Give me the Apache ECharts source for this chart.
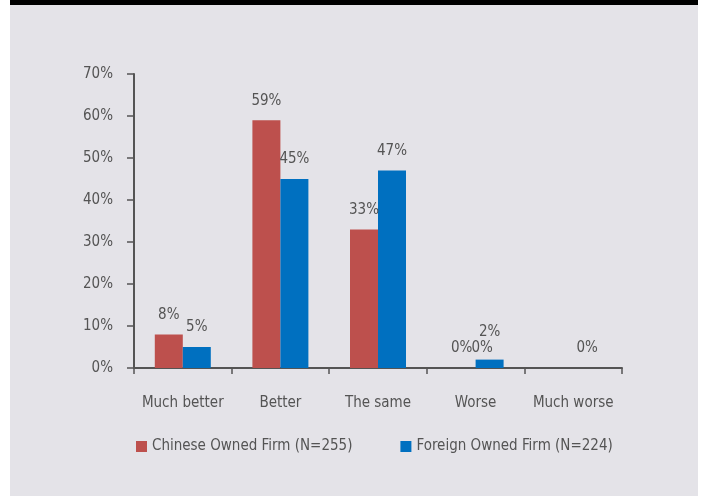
<!DOCTYPE html>
<html>
<head>
<meta charset="utf-8">
<script src="https://cdn.jsdelivr.net/npm/echarts@6/dist/echarts.min.js"></script>
<style>
html,body{margin:0;padding:0;background:#ffffff;width:705px;height:496px;overflow:hidden;}
#bg{position:absolute;left:10px;top:0;width:688px;height:491px;background:#e4e3e8;border-top:5px solid #000;}
#chart{position:absolute;left:0;top:0;width:705px;height:496px;}
</style>
</head>
<body>
<div id="bg"></div>
<div id="chart"></div>
<script>
var categories = ['Much better', 'Better', 'The same', 'Worse', 'Much worse'];
var chineseValues = [8, 59, 33, 0, 0];
var foreignValues = [5, 45, 47, 2, 0];
var seriesNames = ['Chinese Owned Firm (N=255)', 'Foreign Owned Firm (N=224)'];
var yTicks = [0, 10, 20, 30, 40, 50, 60, 70];

var FONT = '"Liberation Sans Narrow", "DejaVu Sans Condensed", "Arial Narrow", sans-serif';
var TXT = '#545454';

function labelled(values, specials) {
  return values.map(function (v, i) {
    var item = { value: v };
    if (specials[i]) item.label = specials[i];
    return item;
  });
}

var chart = echarts.init(document.getElementById('chart'), null, { renderer: 'canvas' });
var baseLabel = {
  show: true, position: 'top', distance: 12,
  color: TXT, fontFamily: FONT, fontSize: 15,
  formatter: function (p) { return p.value + '%'; }
};
chart.setOption({
  backgroundColor: 'transparent',
  animation: false,
  textStyle: { fontFamily: FONT, color: TXT },
  grid: { left: 134, right: 83, top: 74, bottom: 128, containLabel: false },
  legend: {
    data: seriesNames,
    left: 131, top: 434,
    itemWidth: 11, itemHeight: 11, itemGap: 48,
    icon: 'rect',
    textStyle: { color: TXT, fontFamily: FONT, fontSize: 15, padding: [0, 0, 0, 0] }
  },
  xAxis: {
    type: 'category',
    data: categories,
    boundaryGap: true,
    axisLine: { lineStyle: { color: TXT, width: 2 } },
    axisTick: { show: true, length: 6, lineStyle: { color: TXT, width: 1.5 } },
    axisLabel: { color: TXT, fontFamily: FONT, fontSize: 15, margin: 28, interval: 0 }
  },
  yAxis: {
    type: 'value',
    min: yTicks[0], max: yTicks[yTicks.length - 1], interval: 10,
    axisLine: { show: true, lineStyle: { color: TXT, width: 2 } },
    axisTick: { show: true, length: 7, lineStyle: { color: TXT, width: 1.5 } },
    splitLine: { show: false },
    axisLabel: { color: TXT, fontFamily: FONT, fontSize: 15, margin: 21, formatter: '{value}%' }
  },
  series: [
    {
      name: seriesNames[0], type: 'bar', barWidth: 28, barGap: '0%',
      itemStyle: { color: '#bd504d' },
      label: baseLabel,
      data: labelled(chineseValues, { 4: { offset: [-77, 0] } })
    },
    {
      name: seriesNames[1], type: 'bar', barWidth: 28, barGap: '0%',
      itemStyle: { color: '#0070c0' },
      label: baseLabel,
      data: labelled(foreignValues, { 3: { offset: [0, -8] } })
    }
  ]
});
</script>
</body>
</html>
